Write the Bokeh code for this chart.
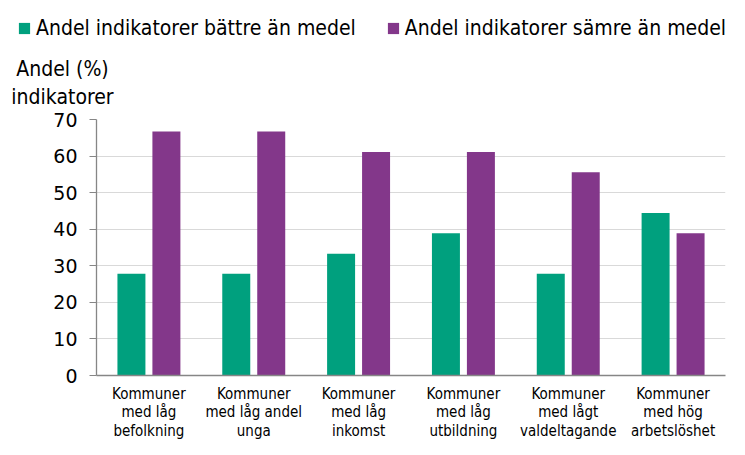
from bokeh.plotting import figure
from bokeh.layouts import column
from bokeh.models import (FactorRange, Range1d, FixedTicker, Legend, LegendItem,
                          Label, ColumnDataSource)
from bokeh.transform import dodge
from bokeh.embed import file_html
from bokeh.resources import INLINE

categories = [
    "Kommuner\nmed låg\nbefolkning",
    "Kommuner\nmed låg andel\nunga",
    "Kommuner\nmed låg\ninkomst",
    "Kommuner\nmed låg\nutbildning",
    "Kommuner\nmed lågt\nvaldeltagande",
    "Kommuner\nmed hög\narbetslöshet",
]
better = [27.8, 27.8, 33.3, 38.9, 27.8, 44.4]
worse = [66.7, 66.7, 61.1, 61.1, 55.6, 38.9]
series_names = ["Andel indikatorer bättre än medel", "Andel indikatorer sämre än medel"]
y_ticks = [0, 10, 20, 30, 40, 50, 60, 70]
y_title_lines = ["Andel (%)", "indikatorer"]

GREEN = "#00A07E"
PURPLE = "#83378A"
LABEL_FONT = "DejaVu Sans Condensed"
BIG = "21px"
W = 745
HEAD_H = 110

# ---------- main chart ----------
src = ColumnDataSource(dict(cat=categories, better=better, worse=worse))

p = figure(width=W, height=455 - HEAD_H, output_backend="svg", toolbar_location=None,
           x_range=FactorRange(factors=categories), y_range=Range1d(0, 70),
           min_border_left=96, min_border_right=20, min_border_top=9,
           min_border_bottom=80)
p.outline_line_color = None

r1 = p.vbar(x=dodge("cat", -0.1668, range=p.x_range), top="better", width=0.267,
            source=src, fill_color=GREEN, line_color=None)
r2 = p.vbar(x=dodge("cat", 0.1668, range=p.x_range), top="worse", width=0.267,
            source=src, fill_color=PURPLE, line_color=None)

p.yaxis.ticker = FixedTicker(ticks=y_ticks)
p.yaxis.major_label_text_font = "DejaVu Sans"
p.yaxis.major_label_text_font_size = "19px"
p.yaxis.major_label_text_color = "black"
p.yaxis.axis_line_color = "#868686"
p.yaxis.axis_line_width = 1.3
p.yaxis.major_tick_line_color = "#868686"
p.yaxis.major_tick_out = 7
p.yaxis.major_tick_in = 0
p.yaxis.minor_tick_line_color = None
p.yaxis.major_label_standoff = 12

p.xaxis.axis_line_color = "#868686"
p.xaxis.axis_line_width = 1.5
p.xaxis.major_tick_line_color = None
p.xaxis.minor_tick_line_color = None
p.xaxis.major_label_text_font = LABEL_FONT
p.xaxis.major_label_text_font_size = "15px"
p.xaxis.major_label_text_color = "black"
p.xaxis.major_label_standoff = 3
p.xaxis.major_label_text_line_height = 1.03

p.xgrid.grid_line_color = None
p.ygrid.grid_line_color = "#D9D9D9"
p.ygrid.grid_line_width = 1
p.ygrid.ticker = FixedTicker(ticks=y_ticks)

# ---------- header: legend + y-axis title ----------
h = figure(width=W, height=HEAD_H, output_backend="svg", toolbar_location=None,
           x_range=Range1d(0, W), y_range=Range1d(HEAD_H, 0),
           x_axis_location=None, y_axis_location=None,
           min_border=0, min_border_left=0, min_border_right=0,
           min_border_top=0, min_border_bottom=0)
h.outline_line_color = None
h.xgrid.visible = False
h.ygrid.visible = False

for fig in (h, p):
    if "frame_align" in fig.properties():
        fig.frame_align = False

# legend swatches: hidden renderers carrying the series colours
g1 = h.vbar(x="better", top="better", width=0.267, source=src,
            fill_color=GREEN, line_color=None, visible=False)
g2 = h.vbar(x="worse", top="worse", width=0.267, source=src,
            fill_color=PURPLE, line_color=None, visible=False)

legend = Legend(items=[LegendItem(label=series_names[0], renderers=[g1]),
                       LegendItem(label=series_names[1], renderers=[g2])],
                orientation="horizontal", location=(17, HEAD_H - 40),
                glyph_width=14, glyph_height=14, label_standoff=5, spacing=30,
                padding=0, margin=0, border_line_color=None,
                background_fill_alpha=0, inactive_fill_alpha=0,
                label_text_font=LABEL_FONT, label_text_font_size=BIG,
                label_text_color="black", label_height=22)
h.add_layout(legend, "center")

h.add_layout(Label(x=62, y=68, text=y_title_lines[0], text_align="center",
                   text_baseline="alphabetic", text_font=LABEL_FONT,
                   text_font_size=BIG, text_color="black"))
h.add_layout(Label(x=62, y=96, text=y_title_lines[1], text_align="center",
                   text_baseline="alphabetic", text_font=LABEL_FONT,
                   text_font_size=BIG, text_color="black"))

layout = column(h, p, spacing=0)
open("out.html", "w").write(file_html(layout, INLINE))
